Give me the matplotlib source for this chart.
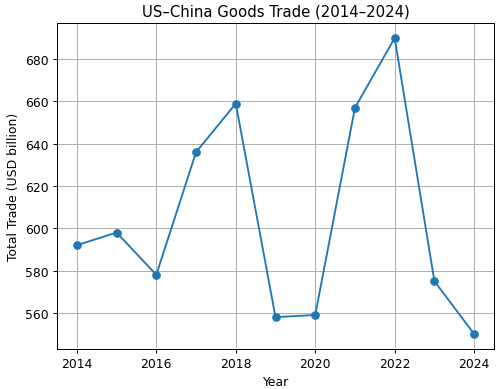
import matplotlib
matplotlib.use("Agg")
import matplotlib.pyplot as plt

years = [2014, 2015, 2016, 2017, 2018, 2019, 2020, 2021, 2022, 2023, 2024]
total_trade = [592, 598, 578, 636, 659, 558, 559, 657, 690, 575, 550]

dpi = 89
fig, ax = plt.subplots(figsize=(500 / dpi, 390 / dpi), dpi=dpi)
ax.plot(years, total_trade, marker='o', color='#1f77b4')
ax.set_title('US–China Goods Trade (2014–2024)')
ax.set_xlabel('Year')
ax.set_ylabel('Total Trade (USD billion)')
ax.grid(True)
fig.subplots_adjust(left=0.114, right=0.988, top=0.938, bottom=0.103)
fig.savefig('out.png', dpi=dpi)
